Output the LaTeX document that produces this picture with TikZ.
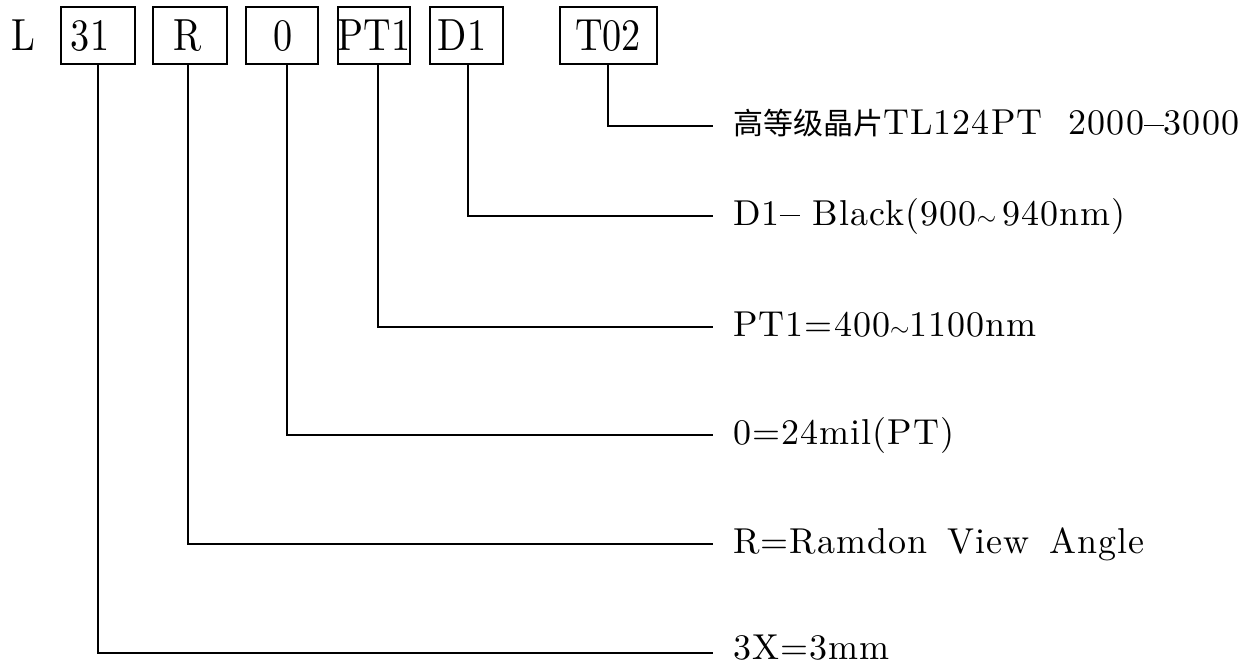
\documentclass[tikz,border=0pt]{standalone}
\usepackage{fontspec}
\newfontfamily\labf{lmroman10-regular.otf}[LetterSpace=3]
\newfontfamily\bigf{lmroman10-regular.otf}[FakeStretch=0.85]
\newfontfamily\cjk{Noto Sans CJK SC}
\newcommand{\dsh}{\rule[0.24em]{0.55em}{0.045em}}
\begin{document}
\begin{tikzpicture}[x=1pt,y=-1pt,
  box/.style={draw, line width=1.2pt, inner sep=0pt, minimum height=57pt},
  lead/.style={line width=1.2pt},
  lab/.style={anchor=base west, inner sep=0pt, font=\fontsize{36}{42}\selectfont\labf},
  big/.style={anchor=base, inner sep=0pt, font=\fontsize{45}{52}\selectfont\bigf}]
\useasboundingbox (0,0) rectangle (1258,666);
% code boxes
\node[big] (L) at (23,51) {L};
\node[box, minimum width=74pt] (b31) at (98,35.5) {};
\node[box, minimum width=74pt] (bR) at (190,35.5) {};
\node[box, minimum width=72pt] (bO) at (282,35.5) {};
\node[box, minimum width=72pt] (bP) at (374,35.5) {};
\node[box, minimum width=73pt] (bD) at (466.5,35.5) {};
\node[box, minimum width=97pt] (bT) at (608.5,35.5) {};
\node[big] (t31) at (90,51) {31};
\node[big] (tR) at (188,51) {R};
\node[big] (tO) at (283,51) {0};
\node[big] (tP) at (374,51) {PT1};
\node[big] (tD) at (462,51) {D1};
\node[big] (tT) at (608,51) {T02};
% leader ends
\coordinate (eT) at (713,126);
\coordinate (eD) at (713,216);
\coordinate (eP) at (713,327);
\coordinate (eO) at (713,435);
\coordinate (eR) at (713,544);
\coordinate (e3) at (713,653);
% leaders
\draw[lead] ([xshift=-0.5pt]bT.south) |- (eT);
\draw[lead] ([xshift=1.5pt]bD.south) |- (eD);
\draw[lead] ([xshift=4pt]bP.south) |- (eP);
\draw[lead] ([xshift=5pt]bO.south) |- (eO);
\draw[lead] ([xshift=-2pt]bR.south) |- (eR);
\draw[lead] (b31.south) |- (e3);
% labels
\node[lab] (lT) at (733,135) {{\cjk\fontsize{30}{36}\selectfont 高等级晶片}TL124PT\ \ 2000\dsh3000};
\node[lab] (lD) at (733,225) {D1\dsh\ Black(900$\sim$\,940nm)};
\node[lab] (lP) at (733,336) {PT1=400$\sim$1100nm};
\node[lab] (lO) at (733,444) {0=24mil(PT)};
\node[lab] (lR) at (733,553) {R=Ramdon\hspace{0.55em}View\hspace{0.55em}Angle};
\node[lab] (l3) at (733,659) {3X=3mm};
\end{tikzpicture}
\end{document}
